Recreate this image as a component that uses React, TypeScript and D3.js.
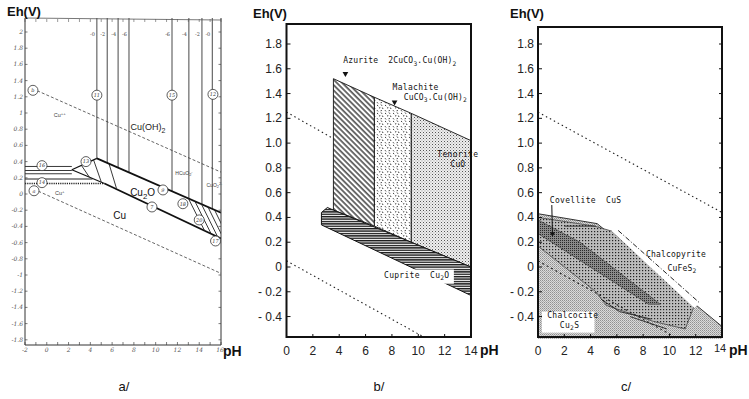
import React from "react";
import * as d3 from "d3";

type Pt = [number, number];

// ---------------- Panel a data ----------------
const aPHTicks = [-2, 0, 2, 4, 6, 8, 10, 12, 14, 16];
const aEhTicks = [2, 1.8, 1.6, 1.4, 1.2, 1, 0.8, 0.6, 0.4, 0.2, 0, -0.2, -0.4, -0.6, -0.8, -1, -1.2, -1.4, -1.6, -1.8];
const aWaterUpper: Pt[] = [[-1.3, 1.3], [16, 0.27]];
const aWaterLower: Pt[] = [[-1.2, 0.06], [16, -0.98]];
const aUpperBoundary: Pt[] = [[4.6, 0.44], [16, -0.23]];
const aLowerBoundary: Pt[] = [[5.3, 0.13], [16, -0.55]];
const aWedgeTop: Pt[] = [[2.3, 0.3], [4.6, 0.44]];
const aWedgeBottom: Pt[] = [[2.3, 0.3], [5.3, 0.13]];
const aWedgeHatch: Pt[][] = [
  [[3.2, 0.35], [3.9, 0.21]],
  [[4.3, 0.42], [5.0, 0.15]],
  [[5.7, 0.38], [6.4, 0.07]],
];
const aVerticalPH = [4.6, 5.55, 6.55, 7.55, 11.5, 13.05, 14.25, 15.2];
const aVerticalLabels = ["-0", "-2", "-4", "-6", "-6", "-4", "-2", "-0"];
const aLeftLevels = [0.34, 0.29, 0.25];
const aMidLevel: Pt[] = [[-2, 0.185], [4.2, 0.185]];
const aDottedLevel: Pt[] = [[-2, 0.13], [5.3, 0.13]];
const aRightHatchStarts = [13.0, 13.6, 14.2, 14.8, 15.4];
const aCircles: { ph: number; eh: number; label: string }[] = [
  { ph: -1.27, eh: 1.28, label: "b" },
  { ph: 4.6, eh: 1.22, label: "11" },
  { ph: 11.5, eh: 1.22, label: "15" },
  { ph: 15.26, eh: 1.23, label: "12" },
  { ph: -0.44, eh: 0.35, label: "16" },
  { ph: 3.6, eh: 0.4, label: "13" },
  { ph: -0.44, eh: 0.14, label: "14" },
  { ph: -1.17, eh: 0.04, label: "a" },
  { ph: 10.67, eh: 0.05, label: "9" },
  { ph: 9.66, eh: -0.16, label: "7" },
  { ph: 12.5, eh: -0.12, label: "18" },
  { ph: 14.0, eh: -0.32, label: "20" },
  { ph: 15.5, eh: -0.58, label: "17" },
];

// ---------------- Panels b / c shared ----------------
const bcPHTicks = [0, 2, 4, 6, 8, 10, 12, 14];
const bcEhTicks = [1.8, 1.6, 1.4, 1.2, 1.0, 0.8, 0.6, 0.4, 0.2, 0, -0.2, -0.4];

// ---------------- Panel b data ----------------
const bWaterUpper: Pt[] = [[0, 1.25], [6.5, 0.86]];
const bWaterLower: Pt[] = [[0, 0.05], [10.5, -0.57]];
const bAzurite: Pt[] = [[3.56, 1.52], [6.67, 1.37], [6.67, 0.33], [3.56, 0.46]];
const bMalachite: Pt[] = [[6.67, 1.37], [9.47, 1.24], [9.47, 0.2], [6.67, 0.33]];
const bTenorite: Pt[] = [[9.47, 1.24], [14, 1.02], [14, 0.0], [9.47, 0.2]];
const bCuprite: Pt[] = [[2.65, 0.44], [3.1, 0.48], [14, 0.0], [14, -0.23], [2.65, 0.34]];
const bCupriteBox: Pt[] = [[7.3, -0.02], [12.7, -0.135]];

// ---------------- Panel c data ----------------
const cWaterUpper: Pt[] = [[0, 1.25], [14, 0.44]];
const cWaterLower: Pt[] = [[0, 0.05], [10.5, -0.57]];
const cChalcocite: Pt[] = [[0, 0.43], [4.5, 0.35], [14, -0.48], [14, -0.58], [0, -0.58]];
const cChalcopyrite: Pt[] = [[0, 0.4], [4.3, 0.33], [5.6, 0.29], [11.9, -0.31], [11.2, -0.5], [8.8, -0.44], [5.2, -0.31], [4.4, -0.2], [0, 0.17]];
const cCovellite: Pt[] = [[0, 0.38], [3.2, 0.2], [9.3, -0.3], [8.4, -0.3], [0, 0.27]];
const cStrip: Pt[] = [[5.6, 0.29], [6.1, 0.295], [12.3, -0.29], [11.9, -0.33]];
const cDashDot: Pt[] = [[6.1, 0.295], [12.3, -0.29]];
const cInnerLines: Pt[][] = [
  [[2.0, 0.33], [4.4, 0.33]],
  [[4.8, -0.26], [6.2, -0.36], [8.6, -0.42]],
  [[7.0, -0.4], [9.8, -0.5]],
];
const cArrow: Pt[] = [[1.05, 0.5], [1.1, 0.26]];

// ---------------- helpers ----------------
function Chem(props: {
  x: number; y: number; s: string; size: number; family?: string;
  anchor?: string; weight?: string; fill?: string; ls?: number;
}) {
  const { x, y, s, size, family = "Arial, 'Liberation Sans', sans-serif", anchor = "start", weight = "normal", fill = "#111", ls = 0 } = props;
  const toks: { t: string; k: number }[] = [];
  let buf = "";
  let i = 0;
  while (i < s.length) {
    const c = s[i];
    if ((c === "_" || c === "^") && i + 1 < s.length) {
      if (buf) toks.push({ t: buf, k: 0 });
      buf = "";
      let j = i + 1;
      let g = "";
      while (j < s.length && /[0-9+\-]/.test(s[j])) { g += s[j]; j++; }
      toks.push({ t: g, k: c === "_" ? 1 : -1 });
      i = j;
    } else { buf += c; i++; }
  }
  if (buf) toks.push({ t: buf, k: 0 });
  let cur = 0;
  return (
    <text x={x} y={y} fontSize={size} fontFamily={family} textAnchor={anchor as any}
      fontWeight={weight} fill={fill} letterSpacing={ls} style={{ whiteSpace: "pre" }}>
      {toks.map((tk, idx) => {
        const target = tk.k * size * 0.32;
        const dy = target - cur;
        cur = target;
        return (
          <tspan key={idx} dy={dy} fontSize={tk.k ? size * 0.78 : size}>{tk.t}</tspan>
        );
      })}
    </text>
  );
}

const MONO = "'DejaVu Sans Mono', 'Liberation Mono', monospace";
const SANS = "Arial, 'Liberation Sans', sans-serif";

export default function App() {
  // scales
  const xA = d3.scaleLinear().domain([-2, 16]).range([25, 221]);
  const yA = d3.scaleLinear().domain([0, 2]).range([194, 32]);
  const xB = d3.scaleLinear().domain([0, 14]).range([286.5, 471]);
  const xC = d3.scaleLinear().domain([0, 14]).range([538, 722]);
  const yBC = d3.scaleLinear().domain([0, 1.8]).range([267, 44]);

  const lineA = d3.line<Pt>().x((d) => xA(d[0])).y((d) => yA(d[1]));
  const lineB = d3.line<Pt>().x((d) => xB(d[0])).y((d) => yBC(d[1]));
  const lineC = d3.line<Pt>().x((d) => xC(d[0])).y((d) => yBC(d[1]));
  const polyB = (p: Pt[]) => lineB(p) + "Z";
  const polyC = (p: Pt[]) => lineC(p) + "Z";

  const upperAt = d3.scaleLinear().domain(aUpperBoundary.map((d) => d[0])).range(aUpperBoundary.map((d) => d[1]));
  const lowerAt = d3.scaleLinear().domain(aLowerBoundary.map((d) => d[0])).range(aLowerBoundary.map((d) => d[1]));

  const aTop = 18, aBottom = 345, aLeft = xA(-2), aRight = xA(16);
  const bTop = 24, bBottom = 337, bLeft = xB(0), bRight = xB(14);
  const cTop = 27, cBottom = 337, cLeft = xC(0), cRight = xC(14);

  const fmtA = (v: number) => String(+v.toFixed(1));
  const fmtBC = (v: number) => (v === 0 ? "0" : v < 0 ? "- " + Math.abs(v).toFixed(1) : v.toFixed(1));

  const aMinorPH = d3.range(-2, 16.01, 1);

  return (
    <svg width={749} height={399} style={{ position: "absolute", left: 0, top: 0, background: "#fff" }}>
      <defs>
        <clipPath id="clipA"><rect x={aLeft} y={aTop} width={aRight - aLeft} height={aBottom - aTop} /></clipPath>
        <pattern id="azur" width={3.8} height={3.8} patternUnits="userSpaceOnUse" patternTransform="rotate(-45)">
          <line x1={1} y1={0} x2={1} y2={3.8} stroke="#111" strokeWidth={1.2} />
        </pattern>
        <pattern id="hlines" width={4} height={2.4} patternUnits="userSpaceOnUse">
          <line x1={0} y1={0.7} x2={4} y2={0.7} stroke="#111" strokeWidth={1.35} />
        </pattern>
        <pattern id="coarse" width={8} height={8} patternUnits="userSpaceOnUse">
          <rect width={8} height={8} fill="#fff" />
          <line x1={1} y1={1} x2={2.2} y2={2} stroke="#222" strokeWidth={0.9} />
          <line x1={5} y1={0.5} x2={6} y2={1.8} stroke="#222" strokeWidth={0.9} />
          <line x1={3} y1={4} x2={4.3} y2={3.7} stroke="#222" strokeWidth={0.9} />
          <line x1={6.4} y1={3.6} x2={7} y2={5} stroke="#222" strokeWidth={0.9} />
          <line x1={1} y1={6.2} x2={2} y2={7.4} stroke="#222" strokeWidth={0.9} />
          <line x1={4.6} y1={6.8} x2={5.9} y2={6.5} stroke="#222" strokeWidth={0.9} />
        </pattern>
        <pattern id="fine" width={3} height={3} patternUnits="userSpaceOnUse">
          <rect width={3} height={3} fill="#eeeeee" />
          <rect x={0} y={0} width={1} height={1} fill="#555" />
          <rect x={1.5} y={1.5} width={0.9} height={0.9} fill="#888" />
        </pattern>
        <pattern id="checker" width={2} height={2} patternUnits="userSpaceOnUse">
          <rect width={2} height={2} fill="#dadada" />
          <rect x={0} y={0} width={1} height={1} fill="#909090" />
          <rect x={1} y={1} width={1} height={1} fill="#acacac" />
        </pattern>
        <pattern id="cdots" width={3} height={3} patternUnits="userSpaceOnUse">
          <rect width={3} height={3} fill="#bcbcbc" />
          <rect x={0} y={0} width={1.2} height={1.2} fill="#222" />
        </pattern>
        <pattern id="covdots" width={2} height={2} patternUnits="userSpaceOnUse">
          <rect width={2} height={2} fill="#8a8a8a" />
          <rect x={0} y={0} width={1} height={1} fill="#2a2a2a" />
        </pattern>
      </defs>

      {/* ================= Panel a ================= */}
      <g>
        <g clipPath="url(#clipA)">
          <path d={lineA(aWaterUpper)!} fill="none" stroke="#555" strokeWidth={0.9} strokeDasharray="3,2" />
          <path d={lineA(aWaterLower)!} fill="none" stroke="#555" strokeWidth={0.9} strokeDasharray="3,2" />
          {aVerticalPH.map((p, i) => (
            <line key={"v" + i} x1={xA(p)} x2={xA(p)} y1={aTop} y2={yA(upperAt(p))} stroke="#333" strokeWidth={0.9} />
          ))}
          {aLeftLevels.map((e, i) => (
            <line key={"h" + i} x1={xA(-2)} x2={xA(2.3)} y1={yA(e)} y2={yA(e)} stroke="#222" strokeWidth={0.9} />
          ))}
          <path d={lineA(aMidLevel)!} fill="none" stroke="#222" strokeWidth={1} />
          <path d={lineA(aDottedLevel)!} fill="none" stroke="#222" strokeWidth={1.6} strokeDasharray="1.2,1" />
          <path d={lineA(aWedgeTop)!} fill="none" stroke="#111" strokeWidth={1.2} />
          <path d={lineA(aWedgeBottom)!} fill="none" stroke="#111" strokeWidth={1.2} />
          {aWedgeHatch.map((seg, i) => (
            <path key={"w" + i} d={lineA(seg)!} fill="none" stroke="#222" strokeWidth={0.9} />
          ))}
          <path d={lineA(aUpperBoundary)!} fill="none" stroke="#111" strokeWidth={1.8} />
          <path d={lineA(aLowerBoundary)!} fill="none" stroke="#111" strokeWidth={1.8} />
          {aRightHatchStarts.map((p, i) => (
            <path key={"r" + i} d={lineA([[p, upperAt(p)], [p + 1.5, lowerAt(p + 1.5)]])!} fill="none" stroke="#222" strokeWidth={0.9} />
          ))}
        </g>
        {/* frame */}
        <line x1={aLeft} x2={aLeft} y1={aTop} y2={aBottom} stroke="#333" strokeWidth={1} />
        <line x1={aLeft} x2={aRight} y1={aBottom} y2={aBottom} stroke="#333" strokeWidth={1} />
        <line x1={aRight} x2={aRight} y1={aTop} y2={aBottom} stroke="#333" strokeWidth={1} />
        <line x1={aLeft} x2={aRight} y1={aTop} y2={aTop + 2} stroke="#555" strokeWidth={0.8} />
        {aMinorPH.map((p, i) => (
          <g key={"mt" + i}>
            <line x1={xA(p)} x2={xA(p)} y1={aBottom} y2={aBottom - 3} stroke="#444" strokeWidth={0.7} />
            <line x1={xA(p)} x2={xA(p)} y1={aTop + 1} y2={aTop + 4} stroke="#555" strokeWidth={0.6} />
          </g>
        ))}
        {aEhTicks.map((v, i) => (
          <g key={"ay" + i}>
            <line x1={aLeft} x2={aLeft + 2.5} y1={yA(v)} y2={yA(v)} stroke="#444" strokeWidth={0.7} />
            <line x1={aRight} x2={aRight - 2.5} y1={yA(v)} y2={yA(v)} stroke="#444" strokeWidth={0.7} />
            <text x={aLeft - 2} y={yA(v) + 2} fontSize={6} fontFamily="'DejaVu Serif', serif" textAnchor="end" fill="#555" fontStyle="italic">{fmtA(v)}</text>
          </g>
        ))}
        {aPHTicks.map((v, i) => (
          <text key={"ax" + i} x={v === 16 ? xA(v) - 1 : xA(v)} y={aBottom + 7} fontSize={6} fontFamily="'DejaVu Serif', serif" textAnchor="middle" fill="#555" fontStyle="italic">{String(v)}</text>
        ))}
        {aVerticalPH.map((p, i) => (
          <text key={"vl" + i} x={xA(p) - 2} y={36} fontSize={5} fontFamily="'DejaVu Serif', serif" textAnchor="end" fill="#444">{aVerticalLabels[i]}</text>
        ))}
        {aCircles.map((c, i) => (
          <g key={"c" + i}>
            <circle cx={xA(c.ph)} cy={yA(c.eh)} r={5} fill="#fff" stroke="#333" strokeWidth={0.8} />
            <text x={xA(c.ph)} y={yA(c.eh) + 1.8} fontSize={5} textAnchor="middle" fontFamily="'DejaVu Serif', serif" fill="#333" fontStyle="italic">{c.label}</text>
          </g>
        ))}
        <Chem x={xA(1.2)} y={yA(0.95)} s="Cu^++" size={5.5} anchor="middle" fill="#444" />
        <Chem x={xA(9.3)} y={yA(0.79)} s="Cu(OH)_2" size={9} anchor="middle" fill="#222" />
        <Chem x={xA(8.8)} y={yA(-0.02)} s="Cu_2O" size={10} anchor="middle" fill="#111" />
        <Chem x={xA(6.7)} y={yA(-0.31)} s="Cu" size={10} anchor="middle" fill="#111" />
        <Chem x={xA(1.2)} y={yA(-0.01)} s="Cu^+" size={5.5} anchor="middle" fill="#444" />
        <Chem x={xA(12.6)} y={yA(0.24)} s="HCuO_2^-" size={5} anchor="middle" fill="#444" />
        <Chem x={xA(15.4)} y={yA(0.09)} s="CuO_2^2-" size={5} anchor="middle" fill="#444" />
        <text x={7} y={16} fontSize={13} fontWeight="bold" fontFamily={SANS} fill="#111">Eh(V)</text>
        <text x={223} y={356} fontSize={14} fontWeight="bold" fontFamily={SANS} fill="#111">pH</text>
      </g>

      {/* ================= Panel b ================= */}
      <g>
        <path d={lineB(bWaterUpper)!} fill="none" stroke="#222" strokeWidth={1.1} strokeDasharray="1.5,3" />
        <path d={lineB(bWaterLower)!} fill="none" stroke="#222" strokeWidth={1.1} strokeDasharray="1.5,3" />
        <path d={polyB(bAzurite)} fill="#fff" />
        <path d={polyB(bAzurite)} fill="url(#azur)" stroke="#111" strokeWidth={0.9} />
        <path d={polyB(bMalachite)} fill="url(#coarse)" stroke="#111" strokeWidth={0.9} />
        <path d={polyB(bTenorite)} fill="url(#fine)" stroke="#111" strokeWidth={0.9} />
        <path d={polyB(bCuprite)} fill="#fff" />
        <path d={polyB(bCuprite)} fill="url(#hlines)" stroke="#111" strokeWidth={1} />
        <rect x={xB(bCupriteBox[0][0])} y={yBC(bCupriteBox[0][1])} width={xB(bCupriteBox[1][0]) - xB(bCupriteBox[0][0])}
          height={yBC(bCupriteBox[1][1]) - yBC(bCupriteBox[0][1])} fill="#fff" />
        <Chem x={xB(7.4)} y={yBC(-0.085)} s="Cuprite  Cu_2O" size={8} family={MONO} fill="#111" ls={0.3} />
        <Chem x={xB(4.3)} y={yBC(1.645)} s="Azurite  2CuCO_3.Cu(OH)_2" size={8} family={MONO} fill="#111" ls={0.2} />
        <Chem x={xB(8.05)} y={yBC(1.43)} s="Malachite" size={8} family={MONO} fill="#111" ls={0.3} />
        <Chem x={xB(8.9)} y={yBC(1.35)} s="CuCO_3.Cu(OH)_2" size={8} family={MONO} fill="#111" ls={0.2} />
        <Chem x={xB(13.0)} y={yBC(0.89)} s="Tenorite" size={8} family={MONO} fill="#111" anchor="middle" ls={0.3} />
        <Chem x={xB(13.0)} y={yBC(0.81)} s="CuO" size={8} family={MONO} fill="#111" anchor="middle" />
        <path d={d3.symbol().type(d3.symbolTriangle).size(14)()!} transform={`translate(${xB(4.47)},${yBC(1.56)}) rotate(180)`} fill="#111" />
        <path d={d3.symbol().type(d3.symbolTriangle).size(14)()!} transform={`translate(${xB(8.2)},${yBC(1.33)}) rotate(180)`} fill="#111" />
        {/* frame */}
        <rect x={bLeft} y={bTop} width={bRight - bLeft} height={bBottom - bTop} fill="none" stroke="#111" strokeWidth={2} />
        {bcEhTicks.map((v, i) => (
          <g key={"by" + i}>
            <line x1={bLeft} x2={bLeft + 4} y1={yBC(v)} y2={yBC(v)} stroke="#111" strokeWidth={1} />
            <text x={282} y={yBC(v) + 4} fontSize={12} fontFamily={SANS} textAnchor="end" fill="#222">{fmtBC(v)}</text>
          </g>
        ))}
        {bcPHTicks.map((v, i) => (
          <g key={"bx" + i}>
            <line x1={xB(v)} x2={xB(v)} y1={bBottom} y2={bBottom - 3} stroke="#111" strokeWidth={1} />
            <text x={xB(v)} y={355} fontSize={12} fontFamily={SANS} textAnchor="middle" fill="#222">{String(v)}</text>
          </g>
        ))}
        <text x={253} y={18} fontSize={13} fontWeight="bold" fontFamily={SANS} fill="#111">Eh(V)</text>
        <text x={480} y={355} fontSize={14} fontWeight="bold" fontFamily={SANS} fill="#111">pH</text>
      </g>

      {/* ================= Panel c ================= */}
      <g>
        <path d={lineC(cWaterUpper)!} fill="none" stroke="#222" strokeWidth={1.1} strokeDasharray="1.5,3" />
        <path d={polyC(cChalcocite)} fill="url(#checker)" />
        <path d={lineC([cChalcocite[0], cChalcocite[1], cChalcocite[2]])!} fill="none" stroke="#333" strokeWidth={1} />
        <path d={polyC(cChalcopyrite)} fill="url(#cdots)" stroke="#444" strokeWidth={0.8} />
        <path d={polyC(cCovellite)} fill="url(#covdots)" stroke="#333" strokeWidth={0.6} />
        <path d={polyC(cStrip)} fill="#fff" />
        <path d={lineC(cDashDot)!} fill="none" stroke="#222" strokeWidth={1} strokeDasharray="5,2,1,2" />
        {cInnerLines.map((l, i) => (
          <path key={"ci" + i} d={lineC(l)!} fill="none" stroke="#222" strokeWidth={0.9} />
        ))}
        <path d={lineC(cWaterLower)!} fill="none" stroke="#222" strokeWidth={1.1} strokeDasharray="2,3" />
        <path d={lineC(cArrow)!} fill="none" stroke="#111" strokeWidth={1} />
        <path d={d3.symbol().type(d3.symbolTriangle).size(12)()!} transform={`translate(${xC(cArrow[1][0])},${yBC(cArrow[1][1]) - 1}) rotate(180)`} fill="#111" />
        <rect x={xC(0.3)} y={yBC(-0.36)} width={xC(4.3) - xC(0.3)} height={yBC(-0.53) - yBC(-0.36)} fill="#fff" />
        <Chem x={xC(0.7)} y={yBC(-0.41)} s="Chalcocite" size={8} family={MONO} fill="#111" ls={0.3} />
        <Chem x={xC(2.4)} y={yBC(-0.49)} s="Cu_2S" size={8} family={MONO} fill="#111" anchor="middle" ls={0.3} />
        <Chem x={xC(0.9)} y={yBC(0.52)} s="Covellite  CuS" size={8} family={MONO} fill="#111" ls={0.3} />
        <Chem x={xC(10.5)} y={yBC(0.08)} s="Chalcopyrite" size={8} family={MONO} fill="#111" anchor="middle" ls={0.2} />
        <Chem x={xC(10.95)} y={yBC(-0.03)} s="CuFeS_2" size={8} family={MONO} fill="#111" anchor="middle" ls={0.2} />
        {/* frame */}
        <rect x={cLeft} y={cTop} width={cRight - cLeft} height={cBottom - cTop} fill="none" stroke="#111" strokeWidth={2} />
        {bcEhTicks.map((v, i) => (
          <g key={"cy" + i}>
            <line x1={cLeft} x2={cLeft + 4} y1={yBC(v)} y2={yBC(v)} stroke="#111" strokeWidth={1} />
            <line x1={cRight} x2={cRight - 3} y1={yBC(v)} y2={yBC(v)} stroke="#111" strokeWidth={1} />
            <text x={534} y={yBC(v) + 4} fontSize={12} fontFamily={SANS} textAnchor="end" fill="#222">{fmtBC(v)}</text>
          </g>
        ))}
        {bcPHTicks.map((v, i) => (
          <g key={"cx" + i}>
            <line x1={xC(v)} x2={xC(v)} y1={cBottom} y2={cBottom - 3} stroke="#111" strokeWidth={1} />
            <text x={v === 14 ? xC(v) - 2 : xC(v)} y={v === 14 ? 352 : 355} fontSize={v === 14 ? 11 : 12} fontFamily={SANS} textAnchor="middle" fill="#222">{String(v)}</text>
          </g>
        ))}
        <text x={510} y={18} fontSize={13} fontWeight="bold" fontFamily={SANS} fill="#111">Eh(V)</text>
        <text x={729} y={355} fontSize={14} fontWeight="bold" fontFamily={SANS} fill="#111">pH</text>
      </g>

      {/* captions */}
      <text x={124} y={391} fontSize={13} fontFamily={SANS} textAnchor="middle" fill="#111">a/</text>
      <text x={379} y={391} fontSize={13} fontFamily={SANS} textAnchor="middle" fill="#111">b/</text>
      <text x={626} y={391} fontSize={13} fontFamily={SANS} textAnchor="middle" fill="#111">c/</text>
    </svg>
  );
}
